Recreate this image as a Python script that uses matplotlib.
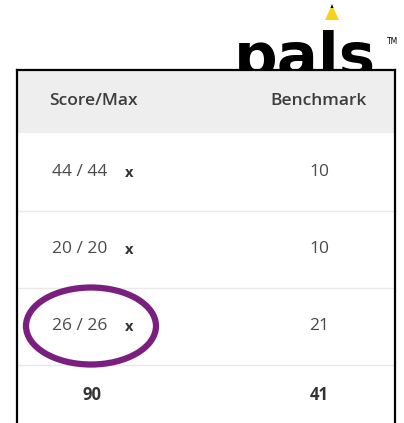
import matplotlib
matplotlib.use("Agg")
import matplotlib.pyplot as plt
from matplotlib.patches import Rectangle, Ellipse, Polygon

headers = ["Score/Max", "Benchmark"]
scores = [44, 20, 26]
maxes = [44, 20, 26]
benchmarks = [10, 10, 21]
total_score = 90
total_benchmark = 41
highlight_row = 2

W, H = 404, 423
fig = plt.figure(figsize=(W / 100, H / 100), dpi=100)
ax = fig.add_axes([0, 0, 1, 1])
ax.set_xlim(0, W)
ax.set_ylim(H, 0)
ax.axis("off")

FONT = "Open Sans"
txt = "#4a4a4a"

# logo
ax.text(234, 76, "pals", fontsize=44, fontweight="heavy", family="DejaVu Sans",
        color="black", ha="left", va="baseline", zorder=1)
ax.add_patch(Polygon([[325, 20], [339, 20], [332, 5]], closed=True,
                     facecolor="#f7d117", edgecolor="none", zorder=2))
ax.add_patch(Polygon([[330.5, 8], [333.5, 8], [332, 4]], closed=True,
                     facecolor="black", edgecolor="none", zorder=2))
ax.text(387, 42, "TM", fontsize=5.5, family="DejaVu Sans", color="black",
        ha="left", va="center")

# table box
x0, x1, y0 = 17, 395, 70
ax.add_patch(Rectangle((x0, y0), x1 - x0, H - y0 + 5, facecolor="white",
                       edgecolor="none", zorder=3))
ax.add_patch(Rectangle((x0, y0), x1 - x0, 63, facecolor="#eeeeee",
                       edgecolor="none", zorder=3))
ax.plot([x0, x0], [y0, H + 2], color="black", lw=1.6, zorder=6)
ax.plot([x1, x1], [y0, H + 2], color="black", lw=1.6, zorder=6)
ax.plot([x0, x1], [y0, y0], color="black", lw=1.6, zorder=6)

col1, col2 = 93, 319
ax.text(col1, 101, headers[0], fontsize=12.5, fontweight="semibold", family=FONT,
        color="#3d3d3d", ha="center", va="center", zorder=5)
ax.text(col2, 101, headers[1], fontsize=12.5, fontweight="semibold", family=FONT,
        color="#3d3d3d", ha="center", va="center", zorder=5)

row_h = 77
first_y = 172
for i, (s, m, b) in enumerate(zip(scores, maxes, benchmarks)):
    y = first_y + i * row_h
    ax.text(52, y, f"{s} / {m}", fontsize=12.5, family=FONT, color=txt,
            ha="left", va="center", zorder=5)
    ax.text(129, y + 1, "x", fontsize=10.5, fontweight="bold", family=FONT,
            color="#333333", ha="center", va="center", zorder=5)
    ax.text(col2, y, f"{b}", fontsize=12.5, family=FONT, color=txt,
            ha="center", va="center", zorder=5)
    ax.plot([x0, x1], [y + 39, y + 39], color="#e9e9e9", lw=1.0, zorder=4)

yt = first_y + len(scores) * row_h - 8
ax.text(col1 - 1, yt, f"{total_score}", fontsize=12, fontweight="bold", family=FONT,
        color="#333333", ha="center", va="center", zorder=5)
ax.text(col2, yt, f"{total_benchmark}", fontsize=12, fontweight="bold",
        family=FONT, color="#333333", ha="center", va="center", zorder=5)

yh = first_y + highlight_row * row_h
ax.add_patch(Ellipse((91, yh), 130, 77, facecolor="none",
                     edgecolor="#7a1f7f", lw=4.5, zorder=7))

fig.savefig("out.png", dpi=100)
